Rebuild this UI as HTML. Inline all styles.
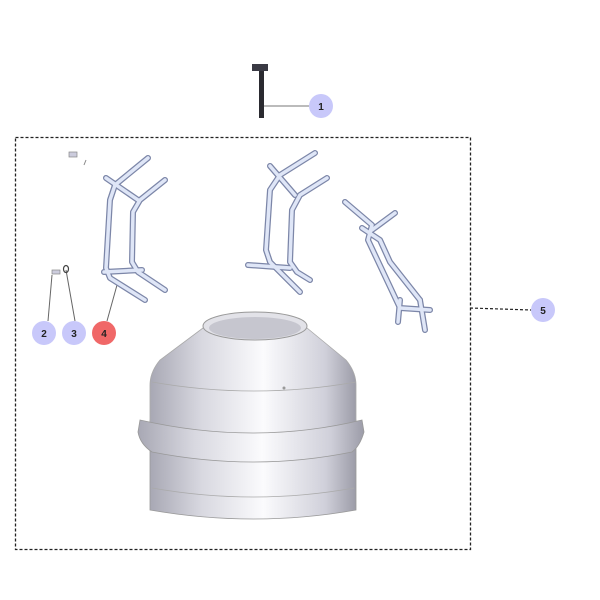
<!DOCTYPE html>
<html><head><style>body{margin:0;background:#fff}svg{display:block}</style></head><body>
<svg width="600" height="600" viewBox="0 0 600 600" xmlns="http://www.w3.org/2000/svg" font-family="Liberation Sans, sans-serif">
<defs>
<linearGradient id="g" x1="0" x2="1">
<stop offset="0" stop-color="#a8a8b4"/><stop offset="0.25" stop-color="#d8d8e0"/><stop offset="0.55" stop-color="#fbfbfd"/><stop offset="0.85" stop-color="#d0d0da"/><stop offset="1" stop-color="#9c9ca8"/></linearGradient>
</defs>
<rect x="15.5" y="137.5" width="455" height="412" fill="none" stroke="#222" stroke-width="1.3" stroke-dasharray="3,2"/>
<rect x="259" y="68" width="5" height="50" fill="#2a2a30"/>
<rect x="252" y="64" width="16" height="7" fill="#3a3a44"/>
<line x1="264" y1="106" x2="309" y2="106" stroke="#777" stroke-width="1"/>
<line x1="470" y1="308" x2="531" y2="310" stroke="#222" stroke-width="1.2" stroke-dasharray="3,2"/>
<line x1="52" y1="275" x2="48" y2="321" stroke="#666"/>
<line x1="66" y1="270" x2="75" y2="321" stroke="#666"/>
<line x1="117" y1="285" x2="107" y2="321" stroke="#666"/>
<rect x="69" y="152" width="8" height="5" fill="#ccd" stroke="#888" stroke-width="0.7"/>
<line x1="84" y1="165" x2="86" y2="160" stroke="#888"/>
<rect x="52" y="270" width="8" height="4" fill="#ccd" stroke="#888" stroke-width="0.7"/>
<ellipse cx="66" cy="269" rx="2.5" ry="3.5" fill="none" stroke="#444" stroke-width="1.2"/>
<g fill="none" stroke-linejoin="round" stroke-linecap="round">
<g stroke="#7c86a8" stroke-width="6">
<path d="M148 158 L115 185 L110 200 L106 268 L110 278 L145 300"/>
<path d="M165 180 L140 200 L133 212 L132 262 L138 272 L165 290"/>
<path d="M106 178 L138 200"/><path d="M104 272 L142 270"/>
<path d="M315 153 L280 175 L270 190 L266 250 L270 262 L300 292"/>
<path d="M327 178 L300 195 L292 210 L290 262 L297 272 L310 280"/>
<path d="M270 166 L295 195"/><path d="M248 265 L290 268"/>
<path d="M345 202 L372 225 L368 240 L400 308 L430 310"/>
<path d="M362 228 L380 240 L390 262 L420 300"/>
<path d="M395 213 L372 230"/><path d="M400 300 L398 322"/><path d="M420 300 L425 330"/>
</g>
<g stroke="#dfe6f7" stroke-width="3.5">
<path d="M148 158 L115 185 L110 200 L106 268 L110 278 L145 300"/>
<path d="M165 180 L140 200 L133 212 L132 262 L138 272 L165 290"/>
<path d="M106 178 L138 200"/><path d="M104 272 L142 270"/>
<path d="M315 153 L280 175 L270 190 L266 250 L270 262 L300 292"/>
<path d="M327 178 L300 195 L292 210 L290 262 L297 272 L310 280"/>
<path d="M270 166 L295 195"/><path d="M248 265 L290 268"/>
<path d="M345 202 L372 225 L368 240 L400 308 L430 310"/>
<path d="M362 228 L380 240 L390 262 L420 300"/>
<path d="M395 213 L372 230"/><path d="M400 300 L398 322"/><path d="M420 300 L425 330"/>
</g>
</g>
<!-- drum -->
<path d="M150 420 L150 510 Q254 528 356 510 L356 420 Z" fill="url(#g)" stroke="#999" stroke-width="0.8"/>
<path d="M203 328 L160 360 Q150 372 150 385 L150 432 Q254 452 356 432 L356 385 Q356 372 346 360 L307 328 Z" fill="url(#g)" stroke="#aaa" stroke-width="0.8"/>
<path d="M140 420 Q254 446 362 420 L364 432 Q360 446 352 452 Q254 472 152 452 Q140 444 138 432 Z" fill="url(#g)" stroke="#999" stroke-width="0.8"/>
<path d="M152 382 Q254 400 356 382" fill="none" stroke="#aaa" stroke-width="0.8"/>
<path d="M152 488 Q254 506 354 488" fill="none" stroke="#aaa" stroke-width="0.8"/>
<ellipse cx="255" cy="326" rx="52" ry="14" fill="#e2e2e8" stroke="#999"/>
<ellipse cx="255" cy="328" rx="46" ry="11" fill="#c6c6cf"/>
<circle cx="284" cy="388" r="1.5" fill="#999"/>
<g font-size="10" font-weight="bold" text-anchor="middle" fill="#222">
<circle cx="321" cy="106" r="12" fill="#c8c8fa"/><text x="321" y="110">1</text>
<circle cx="543" cy="310" r="12" fill="#c8c8fa"/><text x="543" y="314">5</text>
<circle cx="44" cy="333" r="12" fill="#c8c8fa"/><text x="44" y="337">2</text>
<circle cx="74" cy="333" r="12" fill="#c8c8fa"/><text x="74" y="337">3</text>
<circle cx="104" cy="333" r="12" fill="#f06868"/><text x="104" y="337">4</text>
</g>
</svg>
</body></html>
